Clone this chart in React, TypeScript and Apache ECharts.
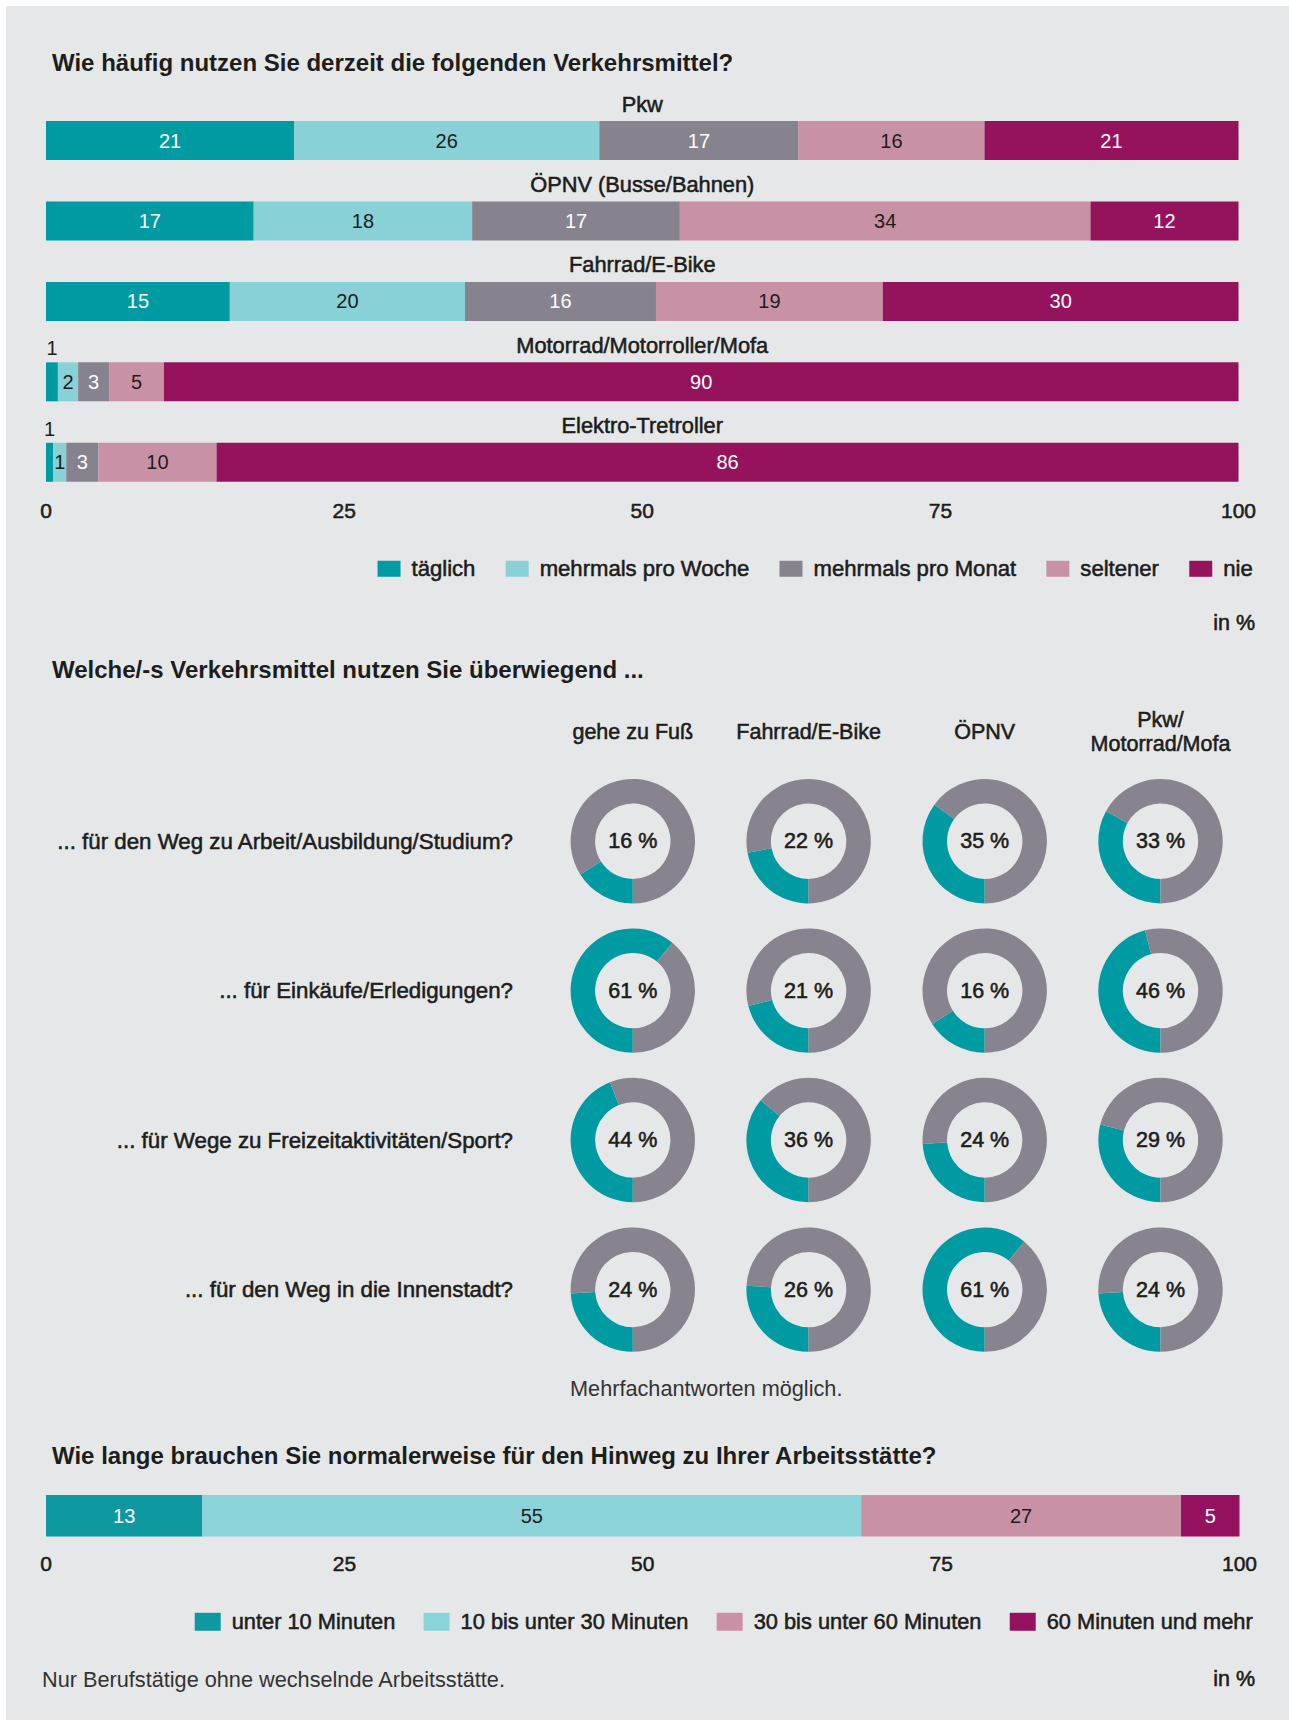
import React, { useEffect, useRef } from "react";
import * as echarts from "echarts";

// ---------- data (shares in %; labels show rounded values) ----------
const freqCategories = [
  "Pkw",
  "ÖPNV (Busse/Bahnen)",
  "Fahrrad/E-Bike",
  "Motorrad/Motorroller/Mofa",
  "Elektro-Tretroller",
];
const freqSeriesNames = ["täglich", "mehrmals pro Woche", "mehrmals pro Monat", "seltener", "nie"];
const taeglich = [20.8, 17.4, 15.4, 1.0, 0.6];
const mehrmalsProWoche = [25.6, 18.3, 19.7, 1.7, 1.1];
const mehrmalsProMonat = [16.7, 17.4, 16.0, 2.6, 2.7];
const seltener = [15.6, 34.4, 19.0, 4.6, 9.9];
const nie = [21.3, 12.4, 29.8, 90.2, 85.7];
const freqTicks = [0, 25, 50, 75, 100];

const donutColumns = ["gehe zu Fuß", "Fahrrad/E-Bike", "ÖPNV", "Pkw/\nMotorrad/Mofa"];
const donutRows = [
  "... für den Weg zu Arbeit/Ausbildung/Studium?",
  "... für Einkäufe/Erledigungen?",
  "... für Wege zu Freizeitaktivitäten/Sport?",
  "... für den Weg in die Innenstadt?",
];
const zuFuss = [16, 61, 44, 24];
const fahrrad = [22, 21, 36, 26];
const oepnv = [35, 16, 24, 61];
const pkwMofa = [33, 46, 29, 24];

const durationNames = [
  "unter 10 Minuten",
  "10 bis unter 30 Minuten",
  "30 bis unter 60 Minuten",
  "60 Minuten und mehr",
];
const durationValues = [13.1, 55.2, 26.8, 4.9];

// ---------- styles ----------
const W = 1289;
const H = 1720;
const FONT = '"Liberation Sans", Arial, Helvetica, sans-serif';
const INK = "#1d1d1b";
const freqColors = ["#009aa3", "#87d1d7", "#87838e", "#c991a6", "#95125c"];
const freqLabelColors = ["#ffffff", INK, "#ffffff", INK, "#ffffff"];
const durColors = ["#0d999f", "#8ad3d8", "#c991a5", "#95135e"];
const durLabelColors = ["#ffffff", INK, INK, "#ffffff"];
const DONUT_TEAL = "#009aa3";
const DONUT_GREY = "#88848f";

const MED = {
  fontFamily: FONT,
  fontSize: 21.5,
  color: INK,
  textBorderColor: INK,
  textBorderWidth: 0.55,
};

const colX = [632.8, 808.6, 984.7, 1160.5];
const rowY = [841.2, 990.6, 1140, 1289.6];

function buildOption() {
  const freqRaw = [taeglich, mehrmalsProWoche, mehrmalsProMonat, seltener, nie];
  const rowSums = freqCategories.map((_, r) => freqRaw.reduce((s, arr) => s + arr[r], 0));

  const series: any[] = [];

  freqRaw.forEach((arr, si) => {
    series.push({
      type: "bar",
      name: freqSeriesNames[si],
      stack: "freq",
      xAxisIndex: 0,
      yAxisIndex: 0,
      barWidth: 39,
      silent: true,
      itemStyle: { color: freqColors[si] },
      label: {
        show: true,
        position: "inside",
        fontFamily: FONT,
        fontSize: 20,
        color: freqLabelColors[si],
        textBorderWidth: 0,
        formatter: (p: any) => String(Math.round(p.data.raw)),
      },
      data: arr.map((v, r) => {
        const item: any = { value: (v / rowSums[r]) * 100, raw: v };
        if (si === 0 && v < 1.5) {
          item.label = { position: "top", distance: 4, color: INK, fontSize: 20 };
        }
        return item;
      }),
    });
  });

  // overlay bar carrying the category label above each row
  series.push({
    type: "bar",
    name: "Verkehrsmittel",
    xAxisIndex: 0,
    yAxisIndex: 0,
    barWidth: 39,
    barGap: "-100%",
    silent: true,
    z: 1,
    itemStyle: { color: "rgba(0,0,0,0)" },
    label: {
      show: true,
      position: "top",
      distance: 6,
      ...MED,
      fontSize: 21.8,
      formatter: (p: any) => p.name,
    },
    data: freqCategories.map((_, r) =>
      freqRaw.reduce((s, arr) => s + (arr[r] / rowSums[r]) * 100, 0)
    ),
  });

  // bottom duration bar
  const durSum = durationValues.reduce((a, b) => a + b, 0);
  durationValues.forEach((v, si) => {
    series.push({
      type: "bar",
      name: durationNames[si],
      stack: "dur",
      xAxisIndex: 1,
      yAxisIndex: 1,
      barWidth: 41.5,
      silent: true,
      itemStyle: { color: durColors[si] },
      label: {
        show: true,
        position: "inside",
        fontFamily: FONT,
        fontSize: 20,
        color: durLabelColors[si],
        textBorderWidth: 0,
        formatter: (p: any) => String(Math.round(p.data.raw)),
      },
      data: [{ value: (v / durSum) * 100, raw: v }],
    });
  });

  // donuts
  const donutData = [zuFuss, fahrrad, oepnv, pkwMofa];
  donutData.forEach((col, c) => {
    col.forEach((v, r) => {
      series.push({
        type: "pie",
        name: donutColumns[c] + " " + r,
        center: [colX[c], rowY[r]],
        radius: [37.7, 62.2],
        startAngle: 270,
        clockwise: true,
        silent: true,
        avoidLabelOverlap: false,
        emphasis: { disabled: true },
        label: { show: false },
        labelLine: { show: false },
        itemStyle: { borderWidth: 0 },
        data: [
          {
            value: v,
            name: "Anteil",
            itemStyle: { color: DONUT_TEAL },
            label: {
              show: true,
              position: "center",
              formatter: "{c} %",
              ...MED,
            },
          },
          { value: 100 - v, name: "Rest", itemStyle: { color: DONUT_GREY }, label: { show: false } },
        ],
      });
    });
  });

  const txt = (
    text: string,
    x: number,
    y: number,
    opts: { align?: string; weight?: string; size?: number; medium?: boolean; color?: string; lh?: number } = {}
  ) => {
    const color = opts.color || INK;
    const style: any = {
      text,
      x: 0,
      y: 0,
      fill: color,
      fontFamily: FONT,
      fontSize: opts.size || 21.5,
      fontWeight: opts.weight || "normal",
      align: opts.align || "left",
      textAlign: opts.align || "left",
      verticalAlign: "middle",
      textVerticalAlign: "middle",
    };
    if (opts.lh) style.lineHeight = opts.lh;
    if (opts.medium) {
      style.stroke = color;
      style.lineWidth = 0.55;
    }
    return { type: "text", x, y, silent: true, style };
  };

  const graphic: any[] = [
    txt("Wie häufig nutzen Sie derzeit die folgenden Verkehrsmittel?", 52, 62, { weight: "bold", size: 24 }),
    txt("in %", 1255, 623, { align: "right", medium: true }),
    txt("Welche/-s Verkehrsmittel nutzen Sie überwiegend ...", 52, 669, { weight: "bold", size: 24 }),
    ...donutColumns.map((h, c) => txt(h, colX[c], 732, { align: "center", medium: true, lh: 24 })),
    ...donutRows.map((h, r) => txt(h, 513, rowY[r], { align: "right", medium: true, size: 22.3 })),
    txt("Mehrfachantworten möglich.", 570, 1388, { size: 21.7, color: "#333333" }),
    txt("Wie lange brauchen Sie normalerweise für den Hinweg zu Ihrer Arbeitsstätte?", 52, 1455, {
      weight: "bold",
      size: 24,
    }),
    txt("Nur Berufstätige ohne wechselnde Arbeitsstätte.", 42, 1679, { size: 21.7, color: "#333333" }),
    txt("in %", 1255, 1679, { align: "right", medium: true }),
  ];

  const valueAxis = (gridIndex: number, margin: number) => ({
    type: "value",
    gridIndex,
    min: freqTicks[0],
    max: freqTicks[freqTicks.length - 1],
    interval: freqTicks[1] - freqTicks[0],
    axisLine: { show: false },
    axisTick: { show: false },
    splitLine: { show: false },
    axisLabel: { margin, ...MED, fontSize: 21 },
  });

  return {
    animation: false,
    backgroundColor: "transparent",
    grid: [
      { left: 46, top: 100.3, width: 1192.5, height: 402.2, containLabel: false },
      { left: 46, top: 1495, width: 1193.5, height: 41.5, containLabel: false },
    ],
    xAxis: [valueAxis(0, -3), valueAxis(1, 16)],
    yAxis: [
      {
        type: "category",
        gridIndex: 0,
        inverse: true,
        data: freqCategories,
        axisLine: { show: false },
        axisTick: { show: false },
        axisLabel: { show: false },
      },
      {
        type: "category",
        gridIndex: 1,
        data: ["Hinweg"],
        axisLine: { show: false },
        axisTick: { show: false },
        axisLabel: { show: false },
      },
    ],
    legend: [
      {
        data: freqSeriesNames,
        right: 31,
        top: 552.5,
        itemWidth: 23,
        itemHeight: 16,
        itemGap: 30,
        icon: "rect",
        selectedMode: false,
        textStyle: { ...MED, fontSize: 22.1, padding: [0, 0, 0, 6] },
      },
      {
        data: durationNames,
        right: 31,
        top: 1605.5,
        itemWidth: 26,
        itemHeight: 18,
        itemGap: 28,
        icon: "rect",
        selectedMode: false,
        textStyle: { ...MED, fontSize: 21.8, padding: [0, 0, 0, 6] },
      },
    ],
    series,
    graphic,
  };
}

export default function App() {
  const ref = useRef<HTMLDivElement>(null);
  useEffect(() => {
    document.body.style.margin = "0";
    const chart = echarts.init(ref.current!, null, { renderer: "svg", width: W, height: H });
    chart.setOption(buildOption() as any);
    return () => chart.dispose();
  }, []);
  return (
    <div style={{ position: "relative", width: W, height: H, background: "#ffffff", overflow: "hidden" }}>
      <div style={{ position: "absolute", left: 6, top: 6, right: 0, bottom: 0, background: "#e6e7e9" }} />
      <div ref={ref} style={{ position: "absolute", left: 0, top: 0, width: W, height: H }} />
    </div>
  );
}
